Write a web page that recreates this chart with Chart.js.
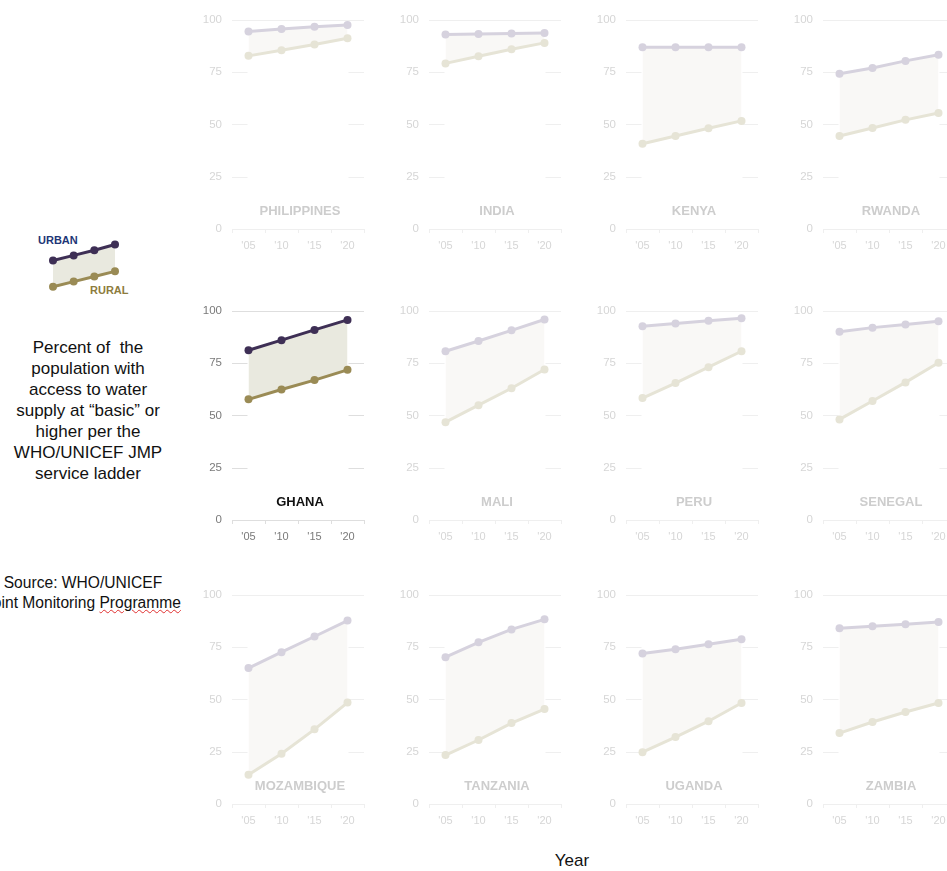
<!DOCTYPE html>
<html>
<head>
<meta charset="utf-8">
<script src="https://cdn.jsdelivr.net/npm/chart.js@4.4.1/dist/chart.umd.min.js"></script>
<style>
  body { margin: 0; width: 947px; height: 871px; overflow: hidden; background: #fff; position: relative;
         font-family: "Liberation Sans", Arial, sans-serif; }
  .panel { position: absolute; width: 173px; height: 252px; }
  .txt { position: absolute; color: #111; text-align: center; }
</style>
</head>
<body>

<div class="txt" style="left:38px;top:234px;font-size:11px;font-weight:bold;color:#1e3676;text-align:left">URBAN</div>
<div class="txt" style="left:90px;top:284px;font-size:11px;font-weight:bold;color:#8d7c3d;text-align:left">RURAL</div>
<div style="position:absolute;left:40px;top:232px;width:90px;height:65px"><canvas id="legendChart"></canvas></div>

<div class="txt" style="left:0;width:176px;top:337px;font-size:17px;line-height:21px">
  Percent of&nbsp; the<br>population with<br>access to water<br>supply at “basic” or<br>higher per the<br>WHO/UNICEF JMP<br>service ladder
</div>
<div class="txt" style="left:-32px;width:230px;top:573px;font-size:15.6px;line-height:20px">
  Source: WHO/UNICEF<br>Joint Monitoring <span style="text-decoration:underline wavy #e03030;text-decoration-thickness:1px">Programme</span>
</div>
<div class="txt" style="left:532px;width:80px;top:851px;font-size:17px">Year</div>

<script>
const years = ["'05", "'10", "'15", "'20"];
const countries = ['PHILIPPINES', 'INDIA', 'KENYA', 'RWANDA',
                   'GHANA', 'MALI', 'PERU', 'SENEGAL',
                   'MOZAMBIQUE', 'TANZANIA', 'UGANDA', 'ZAMBIA'];
const highlighted = 'GHANA';

// urban / rural share (%) with basic or better water supply
const philippinesUrban = [94.5, 95.6, 96.7, 97.6];
const philippinesRural = [82.8, 85.5, 88.2, 91.2];
const indiaUrban = [93.0, 93.3, 93.5, 93.7];
const indiaRural = [79.2, 82.6, 86.0, 89.0];
const kenyaUrban = [86.9, 86.9, 86.9, 86.9];
const kenyaRural = [40.8, 44.5, 48.2, 51.7];
const rwandaUrban = [74.2, 77.0, 80.4, 83.3];
const rwandaRural = [44.5, 48.3, 52.2, 55.5];
const ghanaUrban = [81.2, 86.0, 90.9, 95.7];
const ghanaRural = [57.7, 62.4, 66.9, 71.8];
const maliUrban = [80.7, 85.6, 90.7, 95.9];
const maliRural = [46.8, 54.9, 63.0, 72.0];
const peruUrban = [92.7, 94.0, 95.3, 96.5];
const peruRural = [58.3, 65.5, 73.1, 80.7];
const senegalUrban = [90.0, 92.0, 93.5, 95.1];
const senegalRural = [48.1, 56.9, 65.8, 75.2];
const mozambiqueUrban = [65.0, 72.6, 80.1, 87.7];
const mozambiqueRural = [14.0, 24.0, 35.7, 48.5];
const tanzaniaUrban = [70.2, 77.3, 83.5, 88.3];
const tanzaniaRural = [23.4, 30.6, 38.7, 45.4];
const ugandaUrban = [72.0, 74.0, 76.4, 78.8];
const ugandaRural = [24.8, 32.0, 39.6, 48.3];
const zambiaUrban = [84.0, 85.0, 86.0, 87.0];
const zambiaRural = [33.9, 39.2, 44.0, 48.3];

// sketch in the key (illustrative values)
const legendUrban = [57, 66, 75, 85];
const legendRural = [11, 20, 29, 38];

const urbanSeries = [philippinesUrban, indiaUrban, kenyaUrban, rwandaUrban,
                     ghanaUrban, maliUrban, peruUrban, senegalUrban,
                     mozambiqueUrban, tanzaniaUrban, ugandaUrban, zambiaUrban];
const ruralSeries = [philippinesRural, indiaRural, kenyaRural, rwandaRural,
                     ghanaRural, maliRural, peruRural, senegalRural,
                     mozambiqueRural, tanzaniaRural, ugandaRural, zambiaRural];

const plotLefts = [232, 429, 626, 823];
const plotTops = [19, 310, 594];

const strong = { urban: '#3e2f55', rural: '#9a8b55', fill: '#e9e9df', tick: '#7a7a7a', grid: '#dedede', label: '#111' };
const faded = { urban: '#d6d2de', rural: '#e6e4d6', fill: '#f9f8f6', tick: '#d6d6d6', grid: '#efefef', label: '#cdcdcd' };

const panelPlugin = {
    id: 'panelDeco',
    beforeDatasetsDraw(chart, args, opts) {
        const { ctx, chartArea: a, scales: { x, y } } = chart;
        const x0 = x.getPixelForValue(0), x1 = x.getPixelForValue(3);
        ctx.save();
        ctx.strokeStyle = opts.grid;
        ctx.lineWidth = 1;
        [25, 50, 75, 100].forEach(v => {
            const py = Math.round(y.getPixelForValue(v)) + 0.5;
            ctx.beginPath();
            if (v === 100) {
                ctx.moveTo(a.left, py); ctx.lineTo(a.right, py);
            } else {
                ctx.moveTo(a.left, py); ctx.lineTo(x0 - 1, py);
                ctx.moveTo(x1 + 1, py); ctx.lineTo(a.right, py);
            }
            ctx.stroke();
        });
        ctx.restore();
    },
    afterDatasetsDraw(chart, args, opts) {
        const { ctx, chartArea: a } = chart;
        ctx.save();
        ctx.font = 'bold 13px "Liberation Sans", Arial, sans-serif';
        ctx.fillStyle = opts.labelColor;
        ctx.textAlign = 'center';
        ctx.textBaseline = 'middle';
        ctx.fillText(opts.label, (a.left + a.right) / 2 + 2, a.bottom - 18);
        ctx.restore();
    }
};

countries.forEach((name, i) => {
    const col = i % 4, row = Math.floor(i / 4);
    const c = name === highlighted ? strong : faded;
    const box = document.createElement('div');
    box.className = 'panel';
    box.style.left = (plotLefts[col] - 37) + 'px';
    box.style.top = (plotTops[row] - 16) + 'px';
    const cv = document.createElement('canvas');
    box.appendChild(cv);
    document.body.appendChild(box);

    new Chart(cv, {
        type: 'line',
        data: {
            labels: years,
            datasets: [{
                label: 'Urban',
                data: urbanSeries[i],
                borderColor: c.urban,
                backgroundColor: c.urban,
                pointBackgroundColor: c.urban,
                borderWidth: 3,
                pointRadius: 4,
                pointBorderWidth: 0,
                fill: false
            }, {
                label: 'Rural',
                data: ruralSeries[i],
                borderColor: c.rural,
                backgroundColor: c.fill,
                pointBackgroundColor: c.rural,
                borderWidth: 3,
                pointRadius: 4,
                pointBorderWidth: 0,
                fill: '-1'
            }]
        },
        options: {
            responsive: true,
            maintainAspectRatio: false,
            animation: false,
            events: [],
            clip: false,
            layout: { padding: { top: 0, right: 2, left: 0, bottom: 0 } },
            plugins: {
                legend: { display: false },
                tooltip: { enabled: false },
                panelDeco: { grid: c.grid, label: name, labelColor: c.label }
            },
            scales: {
                x: {
                    offset: true,
                    grid: { offset: true, drawOnChartArea: false, tickLength: 4, color: c.grid },
                    border: { color: c.grid },
                    ticks: { color: c.tick, font: { size: 11 }, padding: 6, maxRotation: 0, autoSkip: false },
                    afterFit: s => { s.height = 26; }
                },
                y: {
                    min: 0,
                    max: 100,
                    grid: { display: false, drawTicks: false },
                    border: { display: false },
                    ticks: { stepSize: 25, color: c.tick, font: { size: 11.5 }, padding: 10 },
                    afterFit: s => { s.width = 37; }
                }
            }
        },
        plugins: [panelPlugin]
    });
});

new Chart(document.getElementById('legendChart'), {
    type: 'line',
    data: {
        labels: years,
        datasets: [{
            data: legendUrban,
            borderColor: strong.urban,
            pointBackgroundColor: strong.urban,
            borderWidth: 3,
            pointRadius: 4,
            pointBorderWidth: 0,
            fill: false
        }, {
            data: legendRural,
            borderColor: strong.rural,
            backgroundColor: strong.fill,
            pointBackgroundColor: strong.rural,
            borderWidth: 3,
            pointRadius: 4,
            pointBorderWidth: 0,
            fill: '-1'
        }]
    },
    options: {
        responsive: true,
        maintainAspectRatio: false,
        animation: false,
        events: [],
        clip: false,
        layout: { padding: { left: 13, right: 15, top: 0, bottom: 0 } },
        plugins: { legend: { display: false }, tooltip: { enabled: false } },
        scales: {
            x: { display: false, offset: false },
            y: { display: false, min: 0, max: 100 }
        }
    }
});
</script>
</body>
</html>
